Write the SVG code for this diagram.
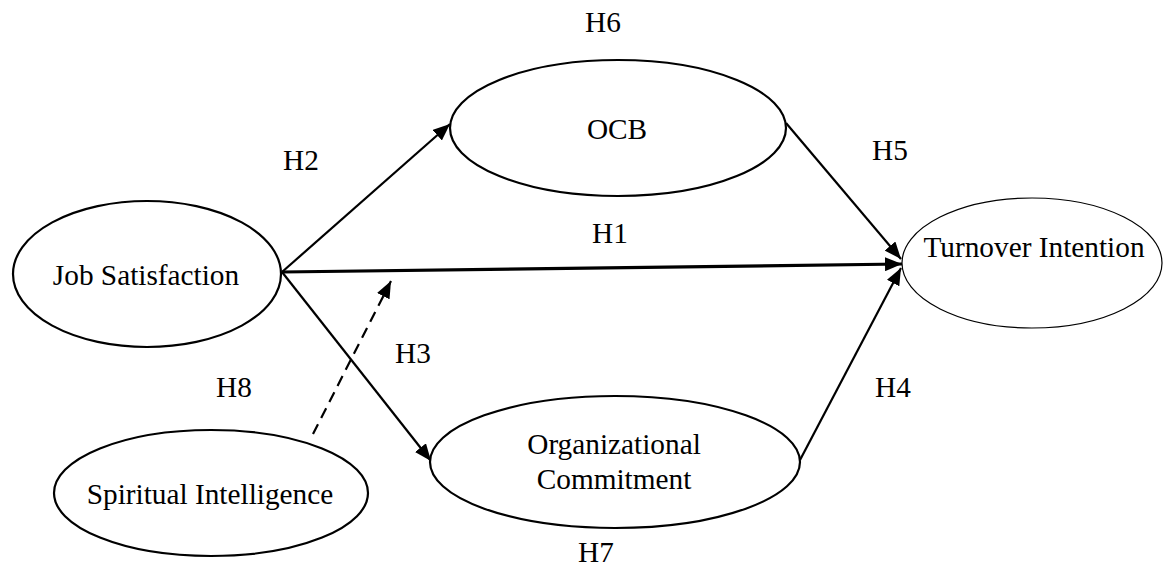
<svg xmlns="http://www.w3.org/2000/svg" width="1163" height="567" viewBox="0 0 1163 567">
<style>
  .node { fill: #fff; stroke: #000; stroke-width: 2.2; }
  .thin { stroke-width: 1.2; }
  .edge { fill: none; stroke: #000; stroke-width: 2.2; }
  .thick { stroke-width: 3.2; }
  .dash { stroke-dasharray: 11 7; }
</style>
<defs>
  <marker id="arr" markerUnits="userSpaceOnUse" markerWidth="18" markerHeight="14" refX="17" refY="7" orient="auto">
    <path d="M0,0 L17,7 L0,14 z" fill="#000"/>
  </marker>
</defs>
<rect width="1163" height="567" fill="#fff"/>
<g id="connectors">
  <path class="edge" d="M282,272 L450,124" marker-end="url(#arr)"/>
  <path class="edge thick" d="M282,272 L902,264" marker-end="url(#arr)"/>
  <path class="edge" d="M282,272 L431,461" marker-end="url(#arr)"/>
  <path class="edge" d="M786,123 L901,259" marker-end="url(#arr)"/>
  <path class="edge" d="M800,460 L901,268" marker-end="url(#arr)"/>
  <path class="edge dash" d="M313,434 L391,281" marker-end="url(#arr)"/>
</g>
<g font-family="'Liberation Serif', 'Times New Roman', serif" font-size="29.3" text-anchor="middle" fill="#000">
<g id="node-job-satisfaction">
  <ellipse class="node" cx="147" cy="274" rx="134" ry="73"/>
  <text x="146" y="285">Job Satisfaction</text>
</g>
<g id="node-ocb">
  <ellipse class="node" cx="618" cy="128" rx="168" ry="68"/>
  <text x="617" y="139">OCB</text>
</g>
<g id="node-turnover-intention">
  <ellipse class="node thin" cx="1032" cy="263" rx="130" ry="65"/>
  <text x="1034" y="257">Turnover Intention</text>
</g>
<g id="node-organizational-commitment">
  <ellipse class="node" cx="615" cy="462" rx="185" ry="66"/>
  <text x="614" y="454">Organizational</text>
  <text x="614" y="489">Commitment</text>
</g>
<g id="node-spiritual-intelligence">
  <ellipse class="node" cx="211" cy="493" rx="157" ry="63"/>
  <text x="210" y="504">Spiritual Intelligence</text>
</g>
<g id="labels">
  <text x="603" y="32">H6</text>
  <text x="301" y="170">H2</text>
  <text x="890" y="160">H5</text>
  <text x="610" y="243">H1</text>
  <text x="413" y="363">H3</text>
  <text x="234" y="397">H8</text>
  <text x="893" y="397">H4</text>
  <text x="596" y="562">H7</text>
</g>
</g>
</svg>
